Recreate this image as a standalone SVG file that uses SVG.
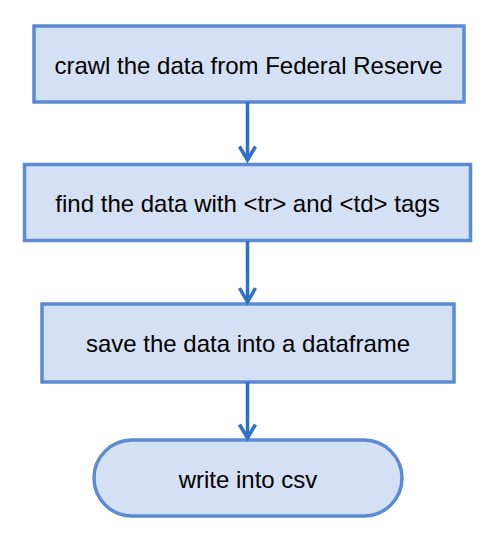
<svg xmlns="http://www.w3.org/2000/svg" width="490" height="538" viewBox="0 0 490 538">
<style>
.box{fill:#d4e1f5;stroke:#5b8bd4;stroke-width:3.5}
.lbl{font-family:"Liberation Sans",Arial,sans-serif;font-size:24px;fill:#000;text-anchor:middle;dominant-baseline:central}
.edge{stroke:#2f6ec9;stroke-width:3.5;fill:none}
</style>
<g id="n1"><rect class="box" x="34" y="26" width="430" height="76"/><text class="lbl" x="248.5" y="65">crawl the data from Federal Reserve</text></g>
<g id="n2"><rect class="box" x="24.5" y="164.5" width="446" height="76"/><text class="lbl" x="247.5" y="203">find the data with &lt;tr&gt; and &lt;td&gt; tags</text></g>
<g id="n3"><rect class="box" x="42" y="304" width="412" height="78"/><text class="lbl" x="248" y="343">save the data into a dataframe</text></g>
<g id="n4"><rect class="box" x="94" y="440" width="308" height="76" rx="38" ry="38"/><text class="lbl" x="248" y="479">write into csv</text></g>
<g id="edges">
<path class="edge" d="M247.5 102V160"/><path class="edge" d="M239.5 146.5L247.5 160L255.5 146.5"/>
<path class="edge" d="M247.5 241V302"/><path class="edge" d="M239.5 288L247.5 302L255.5 288"/>
<path class="edge" d="M247.5 382V438"/><path class="edge" d="M239.5 424.5L247.5 438L255.5 424.5"/>
</g>
</svg>
